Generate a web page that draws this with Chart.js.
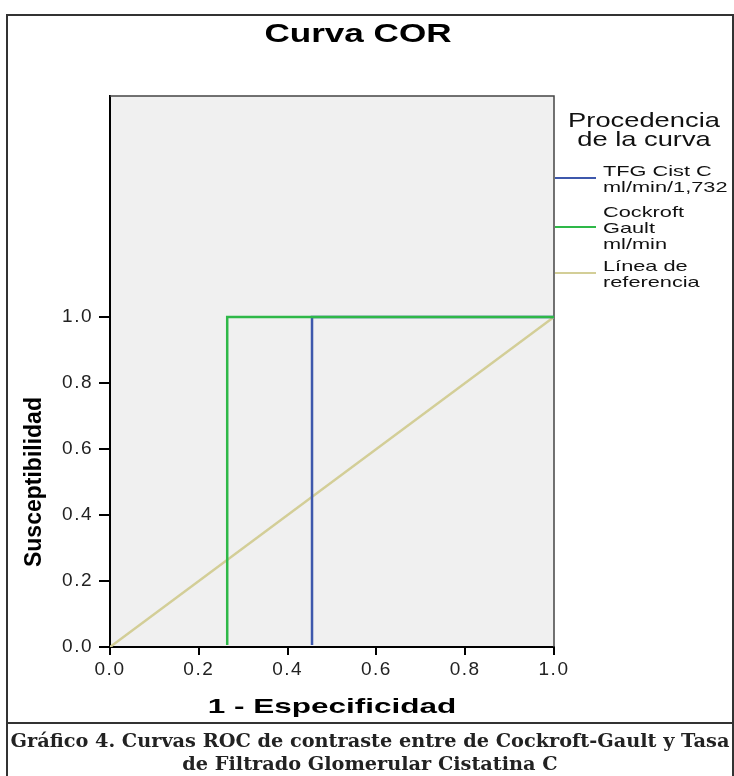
<!DOCTYPE html>
<html>
<head>
<meta charset="utf-8">
<title>Curva COR</title>
<script src="https://cdn.jsdelivr.net/npm/chart.js@4.4.1/dist/chart.umd.min.js"></script>
<style>
  html, body { margin: 0; padding: 0; background: #fff; }
  canvas { display: block; }
</style>
</head>
<body>
<canvas id="roc-chart" width="734" height="776"></canvas>
<script>
// textos
var chartTitle = 'Curva COR';
var xTitle = '1 - Especificidad';
var yTitle = 'Susceptibilidad';
var legendTitle = ['Procedencia', 'de la curva'];
var seriesNames = ['TFG Cist C ml/min/1,732', 'Cockroft Gault ml/min', 'Línea de referencia'];
var legendLines = [['TFG Cist C', 'ml/min/1,732'], ['Cockroft', 'Gault', 'ml/min'], ['Línea de', 'referencia']];
var caption = ['Gráfico 4. Curvas ROC de contraste entre de Cockroft-Gault y Tasa',
               'de Filtrado Glomerular Cistatina C'];
var seriesColors = ['#3e58ac', '#2eb848', '#d3ce97'];

// puntos de las curvas (1 - especificidad, susceptibilidad)
var tfgX = [0, 0.455, 0.455, 1];
var tfgY = [0, 0, 1, 1];
var cgX = [0, 0.264, 0.264, 1];
var cgY = [0, 0, 1, 1];
var refX = [0, 1];
var refY = [0, 1];

var tickValues = [0, 0.2, 0.4, 0.6, 0.8, 1.0];

function toPoints(xs, ys) {
    return xs.map(function(x, i) { return { x: x, y: ys[i] }; });
}

function stretchText(ctx, text, x, y, font, sx, align) {
    ctx.save();
    ctx.translate(x, y);
    ctx.scale(sx, 1);
    ctx.font = font;
    ctx.textAlign = align;
    ctx.textBaseline = 'alphabetic';
    ctx.fillText(text, 0, 0);
    ctx.restore();
}

var framePlugin = {
    id: 'frame',
    beforeDraw: function(chart) {
        var ctx = chart.ctx, a = chart.chartArea;
        ctx.save();
        ctx.fillStyle = '#fff';
        ctx.fillRect(0, 0, chart.width, chart.height);
        ctx.fillStyle = '#f0f0f0';
        ctx.fillRect(a.left, a.top, a.right - a.left, a.bottom - a.top);
        ctx.restore();
        // SPSS spaces its tick labels wide
        ctx.letterSpacing = '1.5px';
    },
    beforeDatasetsDraw: function(chart) {
        var ctx = chart.ctx, a = chart.chartArea;
        ctx.save();
        ctx.strokeStyle = '#444';
        ctx.lineWidth = 1.5;
        ctx.beginPath();
        ctx.moveTo(a.left, a.top);
        ctx.lineTo(a.right, a.top);
        ctx.lineTo(a.right, a.bottom);
        ctx.stroke();
        ctx.restore();
    },
    afterDraw: function(chart) {
        var ctx = chart.ctx, a = chart.chartArea;
        var yScale = chart.scales.y;
        ctx.save();
        ctx.letterSpacing = '0px';
        ctx.fillStyle = '#000';

        // outer frame + caption separator
        ctx.strokeStyle = '#333';
        ctx.lineWidth = 2;
        ctx.strokeRect(7, 15, 726, 770);
        ctx.beginPath();
        ctx.moveTo(7, 723);
        ctx.lineTo(733, 723);
        ctx.stroke();

        // titles
        stretchText(ctx, chartTitle, 358, 42, 'bold 26px "Liberation Sans", Arial', 1.35, 'center');
        stretchText(ctx, xTitle, (a.left + a.right) / 2, 713, 'bold 21px "Liberation Sans", Arial', 1.5, 'center');

        ctx.save();
        ctx.translate(41, (yScale.getPixelForValue(0) + yScale.getPixelForValue(1)) / 2);
        ctx.rotate(-Math.PI / 2);
        ctx.font = 'bold 23px "Liberation Sans", Arial';
        ctx.textAlign = 'center';
        ctx.fillText(yTitle, 0, 0);
        ctx.restore();

        // legend
        ctx.fillStyle = '#111';
        stretchText(ctx, legendTitle[0], 644, 127, '21px "Liberation Sans", Arial', 1.3, 'center');
        stretchText(ctx, legendTitle[1], 644, 146, '21px "Liberation Sans", Arial', 1.3, 'center');

        var lineY = [178, 227, 273];
        var step = 16;
        legendLines.forEach(function(lines, i) {
            ctx.strokeStyle = seriesColors[i];
            ctx.lineWidth = 2;
            ctx.beginPath();
            ctx.moveTo(a.right + 1, lineY[i]);
            ctx.lineTo(a.right + 42, lineY[i]);
            ctx.stroke();
            var first = lineY[i] - (lines.length - 1) * step / 2;
            lines.forEach(function(t, j) {
                stretchText(ctx, t, a.right + 49, first + j * step + 5.5, '15px "Liberation Sans", Arial', 1.45, 'left');
            });
        });

        // caption
        ctx.fillStyle = '#222';
        ctx.font = 'bold 19.3px "DejaVu Serif", serif';
        ctx.textAlign = 'center';
        ctx.fillText(caption[0], 370, 747);
        ctx.fillText(caption[1], 370, 770);
        ctx.restore();
    }
};

function fixedTicks(scale) {
    scale.ticks = tickValues.map(function(v) { return { value: v }; });
}

var tickFont = { family: '"Liberation Sans", Arial', size: 19 };
// keep the y = 0 segments hidden under the x axis like in SPSS
var stepClip = { left: 0, top: 2, right: 0, bottom: -2 };

new Chart(document.getElementById('roc-chart'), {
    type: 'line',
    data: {
        datasets: [{
            label: seriesNames[1],
            data: toPoints(cgX, cgY),
            borderColor: seriesColors[1],
            clip: stepClip
        }, {
            label: seriesNames[0],
            data: toPoints(tfgX, tfgY),
            borderColor: seriesColors[0],
            clip: stepClip
        }, {
            label: seriesNames[2],
            data: toPoints(refX, refY),
            borderColor: seriesColors[2]
        }]
    },
    options: {
        responsive: false,
        animation: false,
        devicePixelRatio: 1,
        layout: { padding: { top: 96, right: 180, bottom: 49, left: 0 } },
        elements: {
            line: { borderWidth: 2.5, tension: 0, fill: false },
            point: { radius: 0, hoverRadius: 0 }
        },
        plugins: {
            legend: { display: false },
            title: { display: false },
            tooltip: { enabled: false }
        },
        scales: {
            x: {
                type: 'linear',
                min: 0,
                max: 1,
                afterBuildTicks: fixedTicks,
                afterFit: function(scale) { scale.height = 80; },
                grid: { drawOnChartArea: false, tickLength: 8, color: '#000', lineWidth: 2 },
                border: { color: '#000', width: 2 },
                ticks: {
                    color: '#222',
                    font: tickFont,
                    padding: 3,
                    maxRotation: 0,
                    autoSkip: false,
                    callback: function(v) { return v.toFixed(1); }
                }
            },
            y: {
                type: 'linear',
                min: 0,
                max: 1.67,
                afterBuildTicks: fixedTicks,
                afterFit: function(scale) { scale.width = 110; },
                grid: { drawOnChartArea: false, tickLength: 11, color: '#000', lineWidth: 2 },
                border: { color: '#000', width: 2 },
                ticks: {
                    color: '#222',
                    font: tickFont,
                    padding: 6,
                    autoSkip: false,
                    callback: function(v) { return v.toFixed(1); }
                }
            }
        }
    },
    plugins: [framePlugin]
});
</script>
</body>
</html>
